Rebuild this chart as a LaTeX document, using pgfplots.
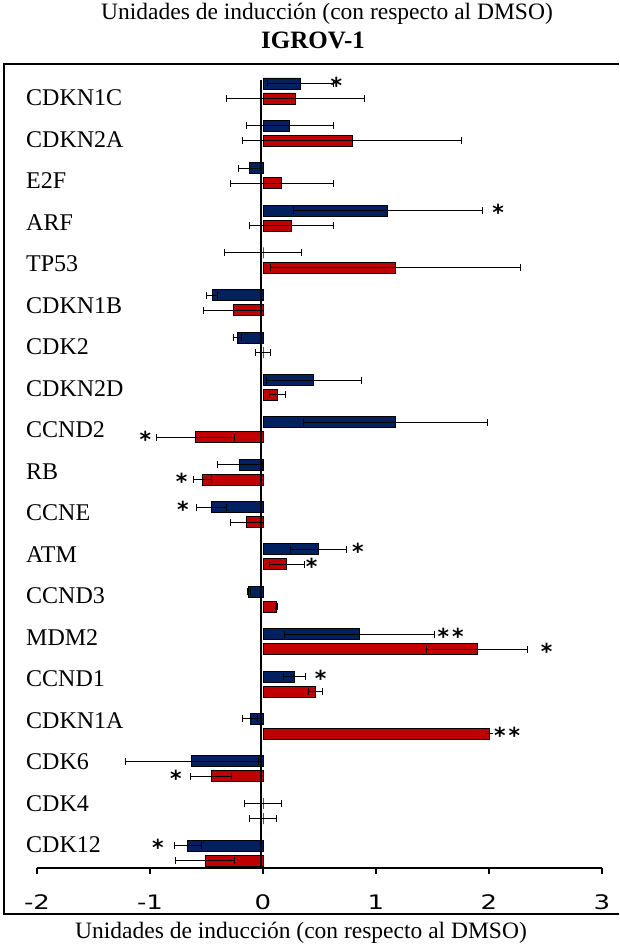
\documentclass[border=0pt]{standalone}
\usepackage{fontspec}
\setmainfont{Liberation Serif}
\newfontfamily\dvs{DejaVu Sans}
\usepackage{graphicx}
\usepackage{pgfplots}
\pgfplotsset{compat=1.18}
\usepackage{pgfplotstable}
\definecolor{barblue}{HTML}{002060}
\definecolor{barred}{HTML}{C00000}

\pgfplotstableread{
y  xb     eb     xr     er
18 0.33   0.29   0.285  0.61
17 0.235  0.385  0.79   0.97
16 -0.12  0.10   0.165  0.455
15 1.105  0.835  0.25   0.37
14 0.0    0.34   1.175  1.105
13 -0.45  0.05   -0.265 0.265
12 -0.225 0.035  0.0    0.064
11 0.45   0.42   0.128  0.07
10 1.17   0.815  -0.60  0.345
9  -0.205 0.20   -0.535 0.08
8  -0.455 0.13   -0.146 0.146
7  0.49   0.25   0.21   0.153
6  -0.125 0.01   0.12   0.01
5  0.85   0.664  1.895  0.45
4  0.28   0.10   0.465  0.062
3  -0.115 0.065  2.0    0.0
2  -0.63  0.59   -0.46  0.18
1  0.0    0.16   0.0    0.12
0  -0.665 0.12   -0.51  0.26
}\data

\tikzset{ast/.style={font=\dvs\bfseries\fontsize{22}{24}\selectfont, anchor=base, inner sep=0pt}}

\begin{document}
\begin{tikzpicture}
\path[use as bounding box] (0,0) rectangle (619pt,947pt);
\begin{axis}[
 at={(37pt,79pt)}, anchor=south west,
 scale only axis, width=565pt, height=804pt,
 xmin=-2, xmax=3, ymin=-0.343, ymax=18.637,
 axis x line*=bottom, axis y line*=left,
 y axis line style={draw=none},
 x axis line style={line width=1.1pt, -},
 xtick={-2,-1,0,1,2,3},
 xticklabels={\scalebox{1.3}[1]{-2},\scalebox{1.3}[1]{-1},\scalebox{1.3}[1]{0},\scalebox{1.3}[1]{1},\scalebox{1.3}[1]{2},\scalebox{1.3}[1]{3}},
 tick align=outside, major tick length=6pt,
 xtick style={black, line width=1.1pt},
 ytick={17.835,16.855,15.876,14.896,13.916,12.937,11.957,10.977,9.997,9.018,8.038,7.058,6.079,5.099,4.119,3.140,2.160,1.180,0.200},
 yticklabels={CDKN1C,CDKN2A,E2F,ARF,TP53,CDKN1B,CDK2,CDKN2D,CCND2,RB,CCNE,ATM,CCND3,MDM2,CCND1,CDKN1A,CDK6,CDK4,CDK12},
 ytick style={draw=none},
 yticklabel style={anchor=west, inner sep=0pt, xshift=-5pt, font=\fontsize{24}{28}\selectfont},
 xticklabel style={anchor=center, inner sep=0pt, yshift=-28pt, font=\dvs\fontsize{20}{24}\selectfont},
 clip=false,
]
\addplot[xbar, bar width=11pt, bar shift=0pt, fill=barblue, draw=black, line width=0.9pt,
  error bars/.cd, x dir=both, x explicit, error mark=|,
  error bar style={black, line width=1pt},
  error mark options={black, mark size=3.5pt, line width=1pt}]
  table[x=xb, y expr=\thisrow{y}+0.177, x error=eb]{\data};
\addplot[xbar, bar width=11pt, bar shift=0pt, fill=barred, draw=black, line width=0.9pt,
  error bars/.cd, x dir=both, x explicit, error mark=|,
  error bar style={black, line width=1pt},
  error mark options={black, mark size=3.5pt, line width=1pt}]
  table[x=xr, y expr=\thisrow{y}-0.177, x error=er]{\data};
\addplot[black, line width=1.6pt, forget plot] coordinates {(-0.02,18.26) (-0.02,-0.343)};
% significance marks
\node[ast, yshift=7.5pt-10pt] at (axis cs:0.65,18) {*};
\node[ast, yshift=7.5pt-10pt] at (axis cs:2.08,15) {*};
\node[ast, yshift=-7.5pt-10pt] at (axis cs:-1.04,10) {*};
\node[ast, yshift=-7.5pt-10pt] at (axis cs:-0.72,9) {*};
\node[ast, yshift=7.5pt-10pt] at (axis cs:-0.71,8) {*};
\node[ast, yshift=7.5pt-10pt] at (axis cs:0.84,7) {*};
\node[ast, yshift=-7.5pt-10pt] at (axis cs:0.43,7) {*};
\node[ast, yshift=7.5pt-10pt] at (axis cs:1.66,5) {*\hspace{3pt}*};
\node[ast, yshift=-7.5pt-10pt] at (axis cs:2.51,5) {*};
\node[ast, yshift=7.5pt-10pt] at (axis cs:0.51,4) {*};
\node[ast, yshift=-7.5pt-10pt] at (axis cs:2.16,3) {*\hspace{3pt}*};
\node[ast, yshift=-7.5pt-10pt] at (axis cs:-0.77,2) {*};
\node[ast, yshift=7.5pt-10pt] at (axis cs:-0.93,0) {*};
\end{axis}
\draw[line width=1.1pt] (619pt,883pt) -- (4pt,883pt) -- (4pt,33pt) -- (619pt,33pt);
\node[font=\fontsize{23.5}{28}\selectfont] at (327pt,933pt) {Unidades de inducción (con respecto al DMSO)};
\node[font=\bfseries\fontsize{25}{30}\selectfont] at (313pt,907pt) {IGROV-1};
\node[font=\fontsize{23.5}{28}\selectfont] at (301pt,14pt) {Unidades de inducción (con respecto al DMSO)};
\end{tikzpicture}
\end{document}
